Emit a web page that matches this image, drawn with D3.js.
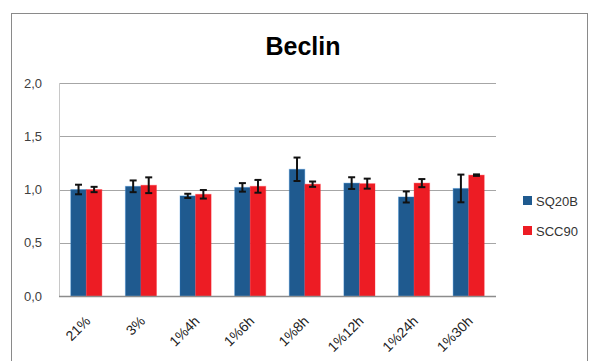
<!DOCTYPE html>
<html>
<head>
<meta charset="utf-8">
<script src="https://cdn.jsdelivr.net/npm/d3@7"></script>
<style>
  html, body { margin: 0; padding: 0; background: #fff; }
  svg { display: block; }
</style>
</head>
<body>
<svg id="chart" width="597" height="361"></svg>
<script>
// Beclin expression per condition, two cell lines
const categories = ["21%", "3%", "1%4h", "1%6h", "1%8h", "1%12h", "1%24h", "1%30h"];
const seriesNames = ["SQ20B", "SCC90"];
const sq20bValues = [1.00, 1.03, 0.94, 1.02, 1.19, 1.06, 0.93, 1.01];
const sq20bErrors = [0.045, 0.055, 0.02, 0.04, 0.11, 0.055, 0.052, 0.13];
const scc90Values = [1.00, 1.04, 0.955, 1.03, 1.05, 1.055, 1.06, 1.135];
const scc90Errors = [0.025, 0.074, 0.04, 0.06, 0.025, 0.047, 0.038, 0.007];
const yTicks = [0, 0.5, 1.0, 1.5, 2.0];
const colors = ["#1f5a8f", "#ed1c24"];

const svg = d3.select("#chart");

// outer chart frame
svg.append("rect")
  .attr("x", 11.5).attr("y", 13.5)
  .attr("width", 576).attr("height", 360)
  .attr("fill", "#fff").attr("stroke", "#8a8a8a").attr("stroke-width", 1);

const plot = { left: 59, right: 496, top: 83, bottom: 296 };

const x0 = d3.scaleBand()
  .domain(categories)
  .range([plot.left, plot.right])
  .paddingInner(0.43).paddingOuter(0.215);

const x1 = d3.scaleBand()
  .domain(seriesNames)
  .range([0, x0.bandwidth()]);

const y = d3.scaleLinear().domain([0, 2]).range([plot.bottom, plot.top]);

// gridlines
svg.append("g")
  .selectAll("line")
  .data(yTicks.filter(t => t > 0))
  .join("line")
  .attr("x1", plot.left).attr("x2", plot.right)
  .attr("y1", d => Math.round(y(d)) + 0.5).attr("y2", d => Math.round(y(d)) + 0.5)
  .attr("stroke", "#a6a6a6").attr("stroke-width", 1);

// left edge of plot
svg.append("line")
  .attr("x1", plot.left + 0.5).attr("x2", plot.left + 0.5)
  .attr("y1", plot.top).attr("y2", plot.bottom)
  .attr("stroke", "#c8c8c8");

// y axis labels
const yAxis = d3.axisLeft(y)
  .tickValues(yTicks)
  .tickFormat(d => d3.format(".1f")(d).replace(".", ","))
  .tickSize(0).tickPadding(17);
const yg = svg.append("g").attr("transform", `translate(${plot.left},0)`).call(yAxis);
yg.select(".domain").remove();
yg.selectAll("text")
  .attr("font-family", "Liberation Sans, Arial, sans-serif")
  .attr("font-size", 13).attr("fill", "#404040");

const data = categories.map((c, i) => ({
  cat: c,
  vals: [
    { s: seriesNames[0], v: sq20bValues[i], e: sq20bErrors[i], c: colors[0] },
    { s: seriesNames[1], v: scc90Values[i], e: scc90Errors[i], c: colors[1] }
  ]
}));

const groups = svg.append("g")
  .selectAll("g")
  .data(data)
  .join("g")
  .attr("transform", d => `translate(${x0(d.cat)},0)`);

groups.selectAll("rect")
  .data(d => d.vals)
  .join("rect")
  .attr("x", d => x1(d.s))
  .attr("y", d => y(d.v))
  .attr("width", x1.bandwidth())
  .attr("height", d => y(0) - y(d.v))
  .attr("fill", d => d.c)
  .attr("stroke", d => d3.color(d.c).brighter(1.2))
  .attr("stroke-opacity", 0.35)
  .attr("stroke-width", 1);

// error bars
const eb = groups.selectAll("g.err")
  .data(d => d.vals)
  .join("g").attr("class", "err")
  .attr("stroke", "#111").attr("stroke-width", 2);
const cx = d => x1(d.s) + x1.bandwidth() / 2;
eb.append("line")
  .attr("x1", cx).attr("x2", cx)
  .attr("y1", d => y(d.v + d.e)).attr("y2", d => y(d.v - d.e));
eb.append("line")
  .attr("x1", d => cx(d) - 3.5).attr("x2", d => cx(d) + 3.5)
  .attr("y1", d => y(d.v + d.e)).attr("y2", d => y(d.v + d.e));
eb.append("line")
  .attr("x1", d => cx(d) - 3.5).attr("x2", d => cx(d) + 3.5)
  .attr("y1", d => y(d.v - d.e)).attr("y2", d => y(d.v - d.e));

// x axis
const xAxis = d3.axisBottom(x0).tickSize(0).tickPadding(0);
const xg = svg.append("g").attr("transform", `translate(0,${plot.bottom})`).call(xAxis);
xg.select(".domain")
  .attr("d", `M${plot.left},0.5H${plot.right}`)
  .attr("stroke", "#8c8c8c").attr("stroke-width", 1.5);
xg.selectAll("text")
  .attr("font-family", "Liberation Sans, Arial, sans-serif")
  .attr("font-size", 14).attr("fill", "#222")
  .attr("text-anchor", "end")
  .attr("dy", null)
  .attr("transform", "translate(5,26) rotate(-45)");

// title
svg.append("text")
  .attr("x", 303).attr("y", 55)
  .attr("text-anchor", "middle")
  .attr("font-family", "Liberation Sans, Arial, sans-serif")
  .attr("font-weight", "bold").attr("font-size", 25)
  .attr("fill", "#000")
  .text("Beclin");

// legend
const legend = svg.append("g").attr("transform", "translate(523,196)");
const li = legend.selectAll("g")
  .data(seriesNames)
  .join("g")
  .attr("transform", (d, i) => `translate(0,${i * 30})`);
li.append("rect").attr("width", 9).attr("height", 9).attr("fill", (d, i) => colors[i]);
li.append("text")
  .attr("x", 13).attr("y", 9.5)
  .attr("font-family", "Liberation Sans, Arial, sans-serif")
  .attr("font-size", 13).attr("fill", "#333")
  .text(d => d);
</script>
</body>
</html>
